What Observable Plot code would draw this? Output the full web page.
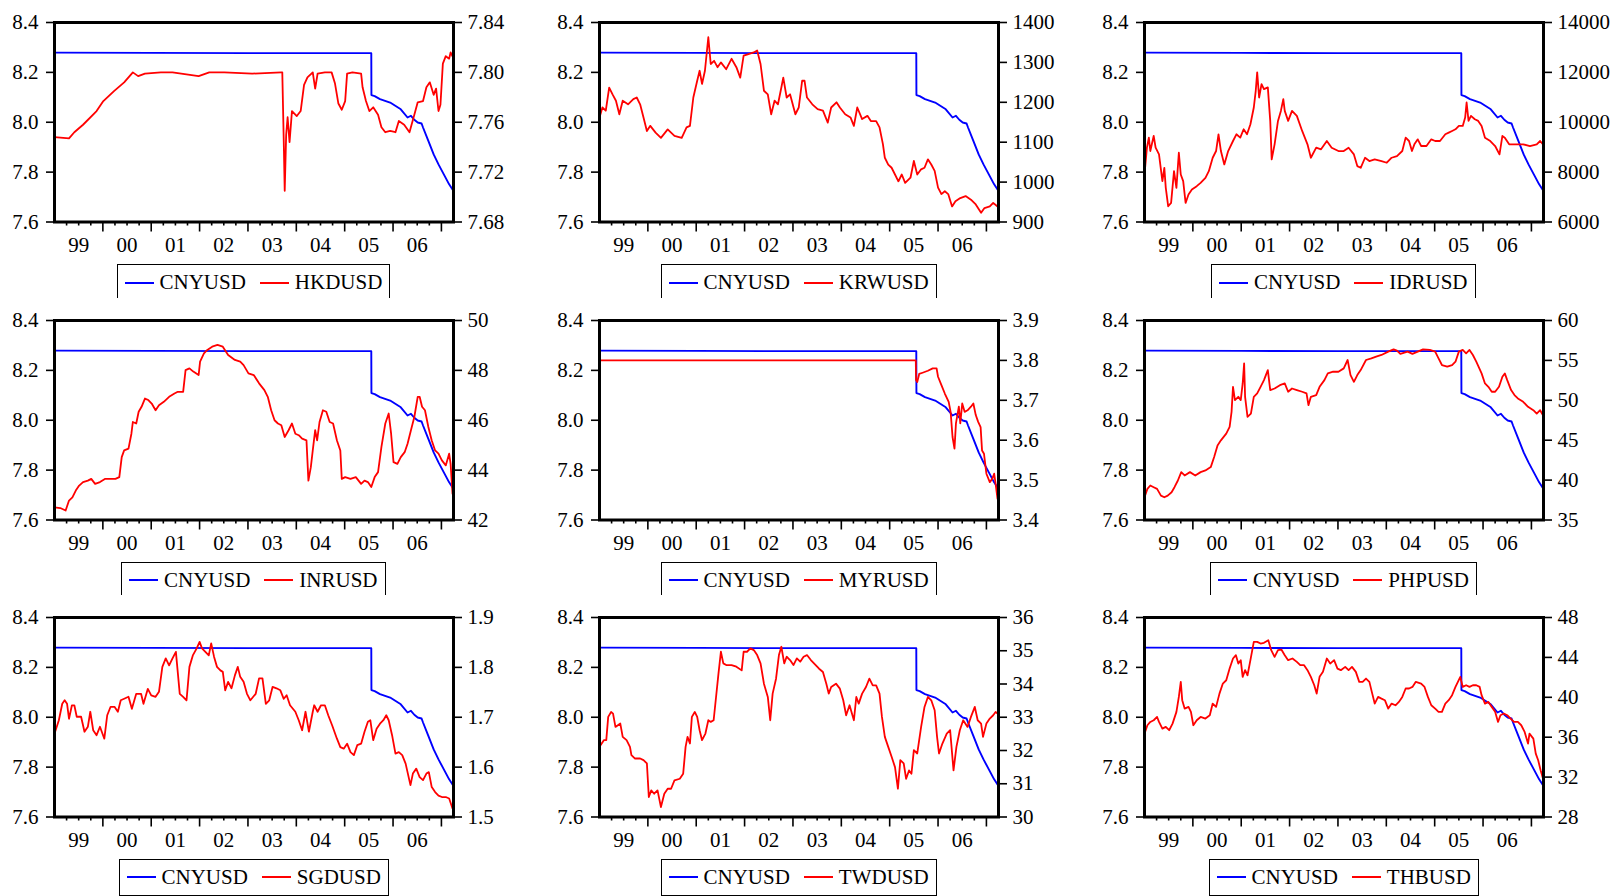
<!DOCTYPE html>
<html>
<head>
<meta charset="utf-8">
<script src="https://cdn.jsdelivr.net/npm/d3@7"></script>
<script src="https://cdn.jsdelivr.net/npm/@observablehq/plot@0.6"></script>
<style>
  html, body { margin: 0; padding: 0; background: #fff; overflow: hidden; }
  #root { position: relative; width: 1621px; height: 896px; overflow: hidden; background: #fff; }
  .panel { position: absolute; width: 540px; }
  .panel svg { max-width: none !important; }
  .panel svg text { font-family: "Liberation Serif", "Times New Roman", serif !important; font-size: 21px !important; fill: #000; }
  .legend {
    position: absolute; height: 37px; box-sizing: border-box;
    border: 1.5px solid #000; display: flex; align-items: center;
    padding: 0 7px; font-family: "Liberation Serif", "Times New Roman", serif;
    font-size: 21px; color: #000; background: #fff; white-space: nowrap;
  }
  .legend .sw { display: inline-block; width: 29px; height: 2px; }
  .legend .lab { margin-left: 6px; }
  .legend .gap { display: inline-block; width: 14px; }
</style>
</head>
<body>
<div id="root"></div>
<script>
// ---------- data ----------
const YEAR_LABELS = ["99", "00", "01", "02", "03", "04", "05", "06"];
const LEFT_TICKS = [7.6, 7.8, 8.0, 8.2, 8.4];

const CNY = [[1999.0,8.279],[2001.0,8.278],[2003.0,8.277],[2005.55,8.277],[2005.553,8.109],[2005.62,8.105],[2005.73,8.093],[2005.94,8.079],[2006.16,8.052],[2006.30,8.019],[2006.37,8.026],[2006.44,8.010],[2006.51,7.999],[2006.59,7.995],[2006.62,7.979],[2006.73,7.925],[2006.84,7.871],[2006.94,7.831],[2007.05,7.791],[2007.16,7.751],[2007.25,7.724]];

const HKD = [[1999.0,7.748],[1999.30,7.747],[1999.41,7.752],[1999.59,7.758],[1999.87,7.769],[2000.01,7.777],[2000.23,7.785],[2000.44,7.792],[2000.62,7.800],[2000.73,7.797],[2000.87,7.799],[2001.2,7.800],[2001.44,7.800],[2001.98,7.797],[2002.2,7.800],[2002.51,7.800],[2003.09,7.799],[2003.69,7.800],[2003.71,7.800],[2003.74,7.745],[2003.76,7.705],[2003.79,7.750],[2003.82,7.764],[2003.86,7.744],[2003.91,7.769],[2004.01,7.765],[2004.09,7.769],[2004.16,7.790],[2004.23,7.796],[2004.34,7.800],[2004.39,7.787],[2004.44,7.799],[2004.59,7.800],[2004.73,7.800],[2004.80,7.791],[2004.87,7.775],[2004.94,7.770],[2005.01,7.777],[2005.05,7.799],[2005.16,7.800],[2005.34,7.799],[2005.37,7.788],[2005.44,7.777],[2005.51,7.769],[2005.59,7.772],[2005.69,7.766],[2005.76,7.756],[2005.84,7.752],[2005.94,7.753],[2006.05,7.752],[2006.12,7.761],[2006.23,7.758],[2006.34,7.752],[2006.44,7.766],[2006.51,7.776],[2006.62,7.777],[2006.69,7.788],[2006.76,7.792],[2006.84,7.782],[2006.89,7.787],[2006.94,7.769],[2006.98,7.774],[2007.03,7.807],[2007.09,7.813],[2007.16,7.811],[2007.19,7.816],[2007.24,7.812]];

const KRW = [[1999.0,1162],[1999.06,1187],[1999.13,1179],[1999.20,1237],[1999.27,1220],[1999.34,1204],[1999.41,1170],[1999.48,1204],[1999.59,1195],[1999.70,1208],[1999.77,1212],[1999.84,1195],[1999.91,1162],[1999.98,1128],[2000.05,1141],[2000.16,1124],[2000.27,1111],[2000.41,1132],[2000.55,1116],[2000.70,1111],[2000.80,1137],[2000.87,1141],[2000.94,1212],[2001.02,1254],[2001.07,1279],[2001.12,1246],[2001.18,1279],[2001.25,1363],[2001.30,1296],[2001.37,1304],[2001.44,1288],[2001.51,1300],[2001.62,1283],[2001.73,1309],[2001.83,1288],[2001.91,1262],[2001.98,1317],[2002.08,1321],[2002.19,1325],[2002.26,1330],[2002.33,1296],[2002.40,1229],[2002.48,1220],[2002.55,1170],[2002.62,1204],[2002.69,1195],[2002.76,1237],[2002.80,1262],[2002.87,1212],[2002.94,1220],[2003.05,1170],[2003.12,1187],[2003.19,1254],[2003.24,1254],[2003.29,1212],[2003.40,1195],[2003.51,1183],[2003.62,1179],[2003.72,1149],[2003.79,1187],[2003.90,1200],[2003.97,1187],[2004.08,1170],[2004.19,1162],[2004.26,1141],[2004.33,1187],[2004.43,1158],[2004.54,1166],[2004.61,1153],[2004.72,1153],[2004.79,1137],[2004.86,1095],[2004.90,1061],[2004.97,1044],[2005.04,1036],[2005.11,1019],[2005.18,1002],[2005.25,1019],[2005.32,998],[2005.43,1011],[2005.50,1053],[2005.57,1019],[2005.65,1032],[2005.72,1036],[2005.79,1057],[2005.86,1044],[2005.93,1028],[2006.00,986],[2006.07,970],[2006.14,977],[2006.21,970],[2006.29,939],[2006.36,952],[2006.46,960],[2006.57,965],[2006.68,956],[2006.78,944],[2006.89,923],[2006.96,935],[2007.07,939],[2007.14,948],[2007.23,939]];

const IDR = [[1999.0,7906],[1999.05,8980],[1999.09,9383],[1999.12,8846],[1999.19,9450],[1999.23,8980],[1999.30,8711],[1999.37,7638],[1999.41,8174],[1999.44,7369],[1999.49,6631],[1999.55,6765],[1999.61,8040],[1999.66,7369],[1999.71,8778],[1999.75,7906],[1999.80,7638],[1999.85,6765],[1999.91,7101],[1999.98,7302],[2000.08,7436],[2000.16,7570],[2000.26,7772],[2000.33,8040],[2000.41,8577],[2000.48,8846],[2000.53,9517],[2000.58,8846],[2000.65,8309],[2000.73,8846],[2000.83,9248],[2000.90,9517],[2000.98,9383],[2001.05,9718],[2001.12,9517],[2001.19,9919],[2001.26,10591],[2001.30,11262],[2001.33,12000],[2001.37,10993],[2001.42,11530],[2001.47,11329],[2001.55,11396],[2001.60,10054],[2001.63,8510],[2001.69,9114],[2001.76,10054],[2001.82,10456],[2001.87,10926],[2001.90,10456],[2001.97,10054],[2002.05,10456],[2002.15,10255],[2002.26,9651],[2002.37,9114],[2002.44,8577],[2002.55,8980],[2002.65,8913],[2002.77,9248],[2002.87,8980],[2003.01,8846],[2003.12,8846],[2003.22,8980],[2003.33,8711],[2003.40,8241],[2003.47,8174],[2003.56,8577],[2003.65,8443],[2003.76,8510],[2003.90,8443],[2004.01,8376],[2004.11,8577],[2004.22,8644],[2004.33,8846],[2004.40,9383],[2004.47,9248],[2004.53,8846],[2004.58,9114],[2004.65,9315],[2004.72,9047],[2004.83,9047],[2004.93,9315],[2005.01,9248],[2005.11,9248],[2005.22,9517],[2005.29,9584],[2005.36,9651],[2005.43,9718],[2005.50,9852],[2005.58,9852],[2005.63,10188],[2005.66,10792],[2005.70,10054],[2005.75,10255],[2005.83,10121],[2005.90,10054],[2005.97,9852],[2006.04,9383],[2006.15,9248],[2006.25,9047],[2006.34,8711],[2006.40,9450],[2006.45,9383],[2006.54,9114],[2006.68,9114],[2006.83,9114],[2006.97,9047],[2007.11,9114],[2007.18,9248],[2007.24,9114]];

const INR = [[1999.0,42.51],[1999.12,42.48],[1999.23,42.38],[1999.30,42.78],[1999.37,42.91],[1999.44,43.18],[1999.51,43.38],[1999.59,43.52],[1999.69,43.58],[1999.76,43.65],[1999.84,43.45],[1999.94,43.52],[2000.05,43.65],[2000.16,43.65],[2000.26,43.65],[2000.34,43.72],[2000.39,44.52],[2000.44,44.79],[2000.53,44.86],[2000.59,45.46],[2000.62,45.93],[2000.69,45.87],[2000.74,46.34],[2000.80,46.54],[2000.87,46.87],[2000.94,46.81],[2001.01,46.67],[2001.09,46.40],[2001.16,46.60],[2001.26,46.74],[2001.37,46.94],[2001.48,47.07],[2001.55,47.14],[2001.66,47.14],[2001.71,48.01],[2001.79,48.08],[2001.87,47.95],[2001.98,47.81],[2002.01,48.35],[2002.09,48.68],[2002.16,48.82],[2002.26,48.95],[2002.37,49.02],[2002.48,48.95],[2002.59,48.62],[2002.73,48.42],[2002.84,48.35],[2002.91,48.21],[2003.01,47.88],[2003.12,47.81],[2003.23,47.48],[2003.34,47.21],[2003.41,46.94],[2003.48,46.40],[2003.55,46.00],[2003.62,45.87],[2003.69,45.80],[2003.76,45.33],[2003.84,45.60],[2003.91,45.87],[2003.98,45.46],[2004.05,45.40],[2004.12,45.26],[2004.21,45.19],[2004.25,43.58],[2004.30,44.12],[2004.34,44.79],[2004.39,45.60],[2004.43,45.19],[2004.48,45.93],[2004.55,46.40],[2004.62,46.34],[2004.69,45.93],[2004.76,45.87],[2004.84,45.19],[2004.91,44.79],[2004.94,43.65],[2005.01,43.72],[2005.12,43.65],[2005.23,43.72],[2005.34,43.45],[2005.41,43.58],[2005.48,43.52],[2005.55,43.32],[2005.62,43.72],[2005.69,43.92],[2005.76,44.93],[2005.84,45.87],[2005.91,46.27],[2005.96,45.46],[2006.01,44.32],[2006.09,44.25],[2006.16,44.52],[2006.24,44.72],[2006.30,45.06],[2006.37,45.60],[2006.44,46.13],[2006.51,46.94],[2006.55,46.94],[2006.60,46.54],[2006.66,46.40],[2006.73,45.73],[2006.80,45.19],[2006.87,44.79],[2006.94,44.66],[2007.01,44.39],[2007.09,44.19],[2007.16,44.66],[2007.19,44.25],[2007.23,43.05]];

const MYR = [[1999.0,3.80],[2005.54,3.80],[2005.545,3.751],[2005.57,3.746],[2005.61,3.766],[2005.68,3.769],[2005.79,3.774],[2005.89,3.780],[2005.97,3.780],[2006.00,3.759],[2006.07,3.738],[2006.14,3.717],[2006.22,3.696],[2006.26,3.671],[2006.30,3.608],[2006.34,3.579],[2006.37,3.642],[2006.43,3.684],[2006.46,3.642],[2006.50,3.692],[2006.55,3.671],[2006.61,3.675],[2006.68,3.684],[2006.73,3.692],[2006.78,3.663],[2006.83,3.646],[2006.88,3.633],[2006.91,3.574],[2006.95,3.566],[2007.00,3.516],[2007.07,3.495],[2007.12,3.503],[2007.16,3.516],[2007.19,3.491],[2007.23,3.453]];

const PHP = [[1999.0,37.85],[1999.06,38.90],[1999.12,39.32],[1999.19,39.11],[1999.26,38.90],[1999.34,38.06],[1999.41,37.85],[1999.48,38.06],[1999.56,38.48],[1999.62,39.11],[1999.69,39.95],[1999.76,41.00],[1999.83,40.58],[1999.94,41.00],[2000.05,40.58],[2000.16,41.00],[2000.26,41.21],[2000.37,41.63],[2000.44,42.89],[2000.51,44.35],[2000.58,44.98],[2000.69,45.82],[2000.76,46.66],[2000.80,48.55],[2000.83,51.69],[2000.87,50.02],[2000.94,50.44],[2000.99,50.02],[2001.03,52.11],[2001.06,54.63],[2001.08,50.44],[2001.13,47.92],[2001.20,48.34],[2001.26,50.44],[2001.33,50.86],[2001.40,51.69],[2001.47,52.53],[2001.55,53.79],[2001.60,51.28],[2001.69,51.48],[2001.80,51.90],[2001.90,52.11],[2001.97,51.07],[2002.05,51.48],[2002.15,51.28],[2002.26,51.07],[2002.35,50.86],[2002.39,49.39],[2002.44,50.44],[2002.55,50.65],[2002.62,51.69],[2002.72,52.53],[2002.79,53.37],[2002.90,53.58],[2003.01,53.58],[2003.12,54.00],[2003.20,55.05],[2003.26,53.16],[2003.33,52.32],[2003.40,53.16],[2003.47,53.79],[2003.58,55.05],[2003.69,55.26],[2003.79,55.47],[2003.90,55.68],[2004.04,56.10],[2004.15,56.39],[2004.22,56.22],[2004.29,55.81],[2004.44,56.10],[2004.54,55.81],[2004.65,56.10],[2004.76,56.39],[2004.90,56.31],[2005.01,56.10],[2005.08,55.26],[2005.15,54.42],[2005.26,54.21],[2005.36,54.42],[2005.43,54.84],[2005.50,56.10],[2005.58,56.31],[2005.65,55.89],[2005.72,56.31],[2005.79,55.68],[2005.86,54.84],[2005.97,53.37],[2006.04,52.11],[2006.11,51.69],[2006.18,51.07],[2006.25,51.07],[2006.33,51.69],[2006.40,52.95],[2006.45,53.37],[2006.50,52.53],[2006.58,51.28],[2006.65,50.65],[2006.72,50.23],[2006.83,49.81],[2006.93,49.18],[2007.04,48.76],[2007.11,48.34],[2007.18,48.76],[2007.24,48.13]];

const SGD = [[1999.0,1.667],[1999.09,1.694],[1999.16,1.727],[1999.21,1.734],[1999.26,1.727],[1999.30,1.697],[1999.36,1.724],[1999.41,1.724],[1999.46,1.701],[1999.55,1.701],[1999.62,1.671],[1999.69,1.681],[1999.74,1.711],[1999.80,1.674],[1999.87,1.664],[1999.94,1.681],[2000.03,1.657],[2000.09,1.704],[2000.16,1.721],[2000.24,1.721],[2000.31,1.711],[2000.37,1.734],[2000.44,1.737],[2000.53,1.741],[2000.60,1.717],[2000.69,1.747],[2000.79,1.747],[2000.84,1.727],[2000.93,1.757],[2001.00,1.744],[2001.09,1.741],[2001.16,1.751],[2001.23,1.801],[2001.30,1.818],[2001.37,1.804],[2001.44,1.818],[2001.51,1.831],[2001.59,1.747],[2001.66,1.741],[2001.73,1.734],[2001.79,1.801],[2001.86,1.824],[2001.94,1.838],[2002.00,1.851],[2002.05,1.838],[2002.12,1.831],[2002.19,1.824],[2002.24,1.848],[2002.30,1.821],[2002.36,1.801],[2002.43,1.794],[2002.48,1.791],[2002.53,1.754],[2002.59,1.771],[2002.66,1.758],[2002.73,1.784],[2002.79,1.801],[2002.84,1.781],[2002.91,1.771],[2002.98,1.747],[2003.05,1.734],[2003.16,1.747],[2003.23,1.778],[2003.30,1.778],[2003.37,1.727],[2003.44,1.734],[2003.51,1.761],[2003.59,1.758],[2003.67,1.754],[2003.74,1.737],[2003.80,1.744],[2003.87,1.724],[2003.98,1.711],[2004.05,1.694],[2004.12,1.674],[2004.19,1.711],[2004.26,1.671],[2004.34,1.711],[2004.37,1.724],[2004.44,1.711],[2004.51,1.724],[2004.59,1.724],[2004.66,1.704],[2004.74,1.684],[2004.84,1.657],[2004.91,1.640],[2004.98,1.637],[2005.05,1.647],[2005.12,1.630],[2005.19,1.624],[2005.26,1.644],[2005.34,1.647],[2005.41,1.671],[2005.48,1.691],[2005.53,1.694],[2005.59,1.654],[2005.66,1.677],[2005.73,1.687],[2005.80,1.694],[2005.86,1.704],[2005.91,1.694],[2005.98,1.664],[2006.05,1.627],[2006.12,1.630],[2006.19,1.624],[2006.26,1.607],[2006.36,1.564],[2006.41,1.587],[2006.48,1.597],[2006.55,1.580],[2006.62,1.574],[2006.69,1.587],[2006.74,1.590],[2006.80,1.560],[2006.87,1.550],[2006.94,1.543],[2007.01,1.540],[2007.09,1.540],[2007.16,1.537],[2007.23,1.517]];

const TWD = [[1999.0,32.11],[1999.09,32.31],[1999.14,32.31],[1999.18,33.01],[1999.24,33.16],[1999.28,33.11],[1999.33,32.71],[1999.38,32.76],[1999.43,32.81],[1999.48,32.41],[1999.56,32.31],[1999.63,32.11],[1999.66,31.86],[1999.73,31.76],[1999.84,31.76],[1999.91,31.71],[1999.98,31.61],[2000.02,30.60],[2000.07,30.80],[2000.13,30.70],[2000.20,30.80],[2000.27,30.30],[2000.34,30.70],[2000.41,30.85],[2000.48,30.85],[2000.55,31.10],[2000.66,31.15],[2000.73,31.30],[2000.78,32.11],[2000.82,32.41],[2000.87,32.21],[2000.91,33.01],[2000.97,33.16],[2001.02,33.01],[2001.07,32.61],[2001.12,32.31],[2001.19,32.51],[2001.25,32.91],[2001.30,32.86],[2001.36,32.91],[2001.41,33.61],[2001.46,34.31],[2001.51,34.97],[2001.56,34.62],[2001.62,34.57],[2001.73,34.57],[2001.83,34.52],[2001.94,34.41],[2001.98,34.97],[2002.05,34.97],[2002.12,35.07],[2002.19,35.02],[2002.26,34.87],[2002.33,34.62],[2002.40,34.01],[2002.48,33.61],[2002.53,32.91],[2002.58,33.71],[2002.65,34.16],[2002.71,34.87],[2002.76,35.12],[2002.82,34.62],[2002.87,34.82],[2002.94,34.72],[2003.01,34.57],[2003.08,34.77],[2003.15,34.67],[2003.22,34.82],[2003.29,34.87],[2003.37,34.72],[2003.47,34.57],[2003.54,34.46],[2003.62,34.36],[2003.69,34.01],[2003.74,33.71],[2003.79,33.91],[2003.89,34.01],[2003.97,33.86],[2004.04,33.51],[2004.10,33.06],[2004.17,33.36],[2004.26,32.91],[2004.31,33.61],[2004.36,33.41],[2004.43,33.71],[2004.51,33.91],[2004.58,34.16],[2004.65,33.96],[2004.72,33.96],[2004.79,33.71],[2004.84,33.01],[2004.90,32.41],[2004.97,32.11],[2005.04,31.81],[2005.11,31.50],[2005.17,30.85],[2005.22,31.71],[2005.29,31.61],[2005.34,31.15],[2005.40,31.40],[2005.45,31.30],[2005.50,32.01],[2005.57,31.91],[2005.65,32.71],[2005.72,33.31],[2005.79,33.61],[2005.86,33.51],[2005.93,33.21],[2005.98,32.41],[2006.02,31.91],[2006.09,32.21],[2006.18,32.51],[2006.25,32.61],[2006.32,31.40],[2006.38,32.11],[2006.45,32.61],[2006.52,32.91],[2006.61,32.71],[2006.68,33.01],[2006.76,33.31],[2006.82,32.91],[2006.89,32.81],[2006.93,32.41],[2007.00,32.81],[2007.07,32.96],[2007.14,33.06],[2007.19,33.16],[2007.23,33.11]];

const THB = [[1999.0,36.36],[1999.06,37.20],[1999.12,37.53],[1999.19,37.70],[1999.26,38.03],[1999.30,37.53],[1999.37,36.86],[1999.44,37.03],[1999.51,36.70],[1999.58,37.36],[1999.66,38.54],[1999.71,40.04],[1999.75,41.55],[1999.78,39.71],[1999.83,38.87],[1999.91,39.04],[1999.96,38.54],[2000.01,37.20],[2000.08,37.70],[2000.16,38.03],[2000.26,37.87],[2000.35,38.20],[2000.41,39.37],[2000.48,39.04],[2000.55,40.37],[2000.62,41.38],[2000.69,41.71],[2000.76,42.88],[2000.83,43.89],[2000.89,44.22],[2000.94,43.38],[2000.99,43.72],[2001.03,42.05],[2001.08,42.72],[2001.13,42.21],[2001.19,43.72],[2001.26,45.56],[2001.33,45.56],[2001.40,45.39],[2001.47,45.46],[2001.56,45.73],[2001.62,44.72],[2001.69,44.05],[2001.76,44.72],[2001.83,44.79],[2001.90,44.22],[2001.97,43.72],[2002.06,43.89],[2002.15,43.55],[2002.22,43.22],[2002.30,43.22],[2002.37,42.72],[2002.44,42.05],[2002.51,41.21],[2002.56,40.37],[2002.62,42.05],[2002.69,42.55],[2002.77,43.89],[2002.84,43.38],[2002.92,43.72],[2002.99,42.88],[2003.06,42.72],[2003.15,43.05],[2003.22,42.72],[2003.29,43.05],[2003.37,42.55],[2003.44,41.55],[2003.51,41.55],[2003.58,41.88],[2003.65,41.55],[2003.70,40.54],[2003.76,39.37],[2003.83,40.04],[2003.90,39.87],[2003.97,39.71],[2004.04,38.87],[2004.11,39.37],[2004.19,39.20],[2004.26,39.54],[2004.33,40.04],[2004.40,40.88],[2004.47,40.88],[2004.54,41.04],[2004.61,41.55],[2004.72,41.38],[2004.79,41.04],[2004.86,40.04],[2004.93,39.20],[2005.01,38.87],[2005.08,38.54],[2005.15,38.54],[2005.22,39.37],[2005.29,39.71],[2005.36,40.21],[2005.43,41.04],[2005.48,41.55],[2005.53,42.05],[2005.58,41.04],[2005.65,41.21],[2005.72,41.04],[2005.79,41.21],[2005.86,41.21],[2005.93,41.04],[2005.97,40.21],[2006.04,39.37],[2006.11,39.54],[2006.18,39.04],[2006.25,38.54],[2006.31,37.53],[2006.36,38.20],[2006.43,38.37],[2006.50,38.20],[2006.57,37.87],[2006.64,37.53],[2006.72,37.53],[2006.79,37.20],[2006.86,36.53],[2006.93,35.36],[2006.96,36.36],[2007.04,35.86],[2007.09,34.35],[2007.14,33.69],[2007.19,32.68],[2007.24,31.85]];

const NAMES = ["HKDUSD", "KRWUSD", "IDRUSD", "INRUSD", "MYRUSD", "PHPUSD", "SGDUSD", "TWDUSD", "THBUSD"];
const SERIES = [HKD, KRW, IDR, INR, MYR, PHP, SGD, TWD, THB];
const RIGHT_TICKS = [
  [7.68, 7.72, 7.76, 7.80, 7.84],
  [900, 1000, 1100, 1200, 1300, 1400],
  [6000, 8000, 10000, 12000, 14000],
  [42, 44, 46, 48, 50],
  [3.4, 3.5, 3.6, 3.7, 3.8, 3.9],
  [35, 40, 45, 50, 55, 60],
  [1.5, 1.6, 1.7, 1.8, 1.9],
  [30, 31, 32, 33, 34, 35, 36],
  [28, 32, 36, 40, 44, 48]
];
const RIGHT_DECIMALS = [2, 0, 0, 0, 1, 0, 1, 0, 0];

// ---------- layout ----------
const FRAME_LEFT = [54, 599, 1144];
const FRAME_TOP = [22, 319.5, 616.5];
const ML = 54, MR = 87, MT = 22, MB = 40.5, W = 540, H = 262;

const QUARTERS = [];
const YEAR_STARTS = [];
const YEAR_MIDS = [];
for (let y = 1999; y <= 2006; y++) {
  YEAR_MIDS.push(y + 0.5);
  if (y > 1999) YEAR_STARTS.push(y);
  QUARTERS.push(y + 0.25, y + 0.5, y + 0.75);
}
YEAR_STARTS.push(2007);

const root = document.getElementById("root");
const FONT = "Liberation Serif";

SERIES.forEach((data, i) => {
  const col = i % 3, row = Math.floor(i / 3);
  const ticks = RIGHT_TICKS[i];
  const rlo = ticks[0], rhi = ticks[ticks.length - 1];
  const toL = v => 7.6 + (v - rlo) / (rhi - rlo) * 0.8;
  const fromL = y => rlo + (y - 7.6) / 0.8 * (rhi - rlo);
  const txt = {fontFamily: FONT, fontSize: 21};

  const chart = Plot.plot({
    width: W, height: H,
    marginLeft: ML, marginRight: MR, marginTop: MT, marginBottom: MB,
    x: {type: "linear", domain: [1999, 2007.25]},
    y: {type: "linear", domain: [7.6, 8.4]},
    style: {fontFamily: FONT, fontSize: "21px", color: "#000", background: "#fff", overflow: "visible"},
    marks: [
      Plot.line(CNY, {x: d => d[0], y: d => d[1], stroke: "#0000ff", strokeWidth: 1.9}),
      Plot.line(data, {x: d => d[0], y: d => toL(d[1]), stroke: "#ff0000", strokeWidth: 1.8}),
      Plot.frame({stroke: "#000", strokeWidth: 3}),
      Plot.axisY({anchor: "left", ticks: LEFT_TICKS, tickFormat: d => d.toFixed(1), tickSize: 8, tickPadding: 8, strokeWidth: 1.6, ...txt}),
      Plot.axisY({anchor: "right", ticks: ticks.map(toL), tickFormat: d => fromL(d).toFixed(RIGHT_DECIMALS[i]), tickSize: 8, tickPadding: 6, strokeWidth: 1.6, ...txt}),
      Plot.axisX({ticks: QUARTERS, tickSize: 4, tickFormat: () => "", strokeWidth: 1.6}),
      Plot.axisX({ticks: YEAR_STARTS, tickSize: 10, tickFormat: () => "", strokeWidth: 1.6}),
      Plot.axisX({ticks: YEAR_MIDS, tickSize: 0, tickPadding: 15, tickFormat: d => YEAR_LABELS[Math.floor(d) - 1999], ...txt})
    ]
  });

  const wrap = document.createElement("div");
  wrap.className = "panel";
  wrap.style.left = (FRAME_LEFT[col] - ML) + "px";
  wrap.style.top = (FRAME_TOP[row] - MT) + "px";
  wrap.appendChild(chart);
  root.appendChild(wrap);

  const leg = document.createElement("div");
  leg.className = "legend";
  leg.innerHTML =
    '<span class="sw" style="background:#0000ff"></span><span class="lab">CNYUSD</span>' +
    '<span class="gap"></span>' +
    '<span class="sw" style="background:#ff0000"></span><span class="lab">' + NAMES[i] + '</span>';
  root.appendChild(leg);
  const cx = FRAME_LEFT[col] + (W - ML - MR) / 2;
  leg.style.top = (FRAME_TOP[row] + 242) + "px";
  leg.style.left = (cx - leg.offsetWidth / 2) + "px";
});
</script>
</body>
</html>
